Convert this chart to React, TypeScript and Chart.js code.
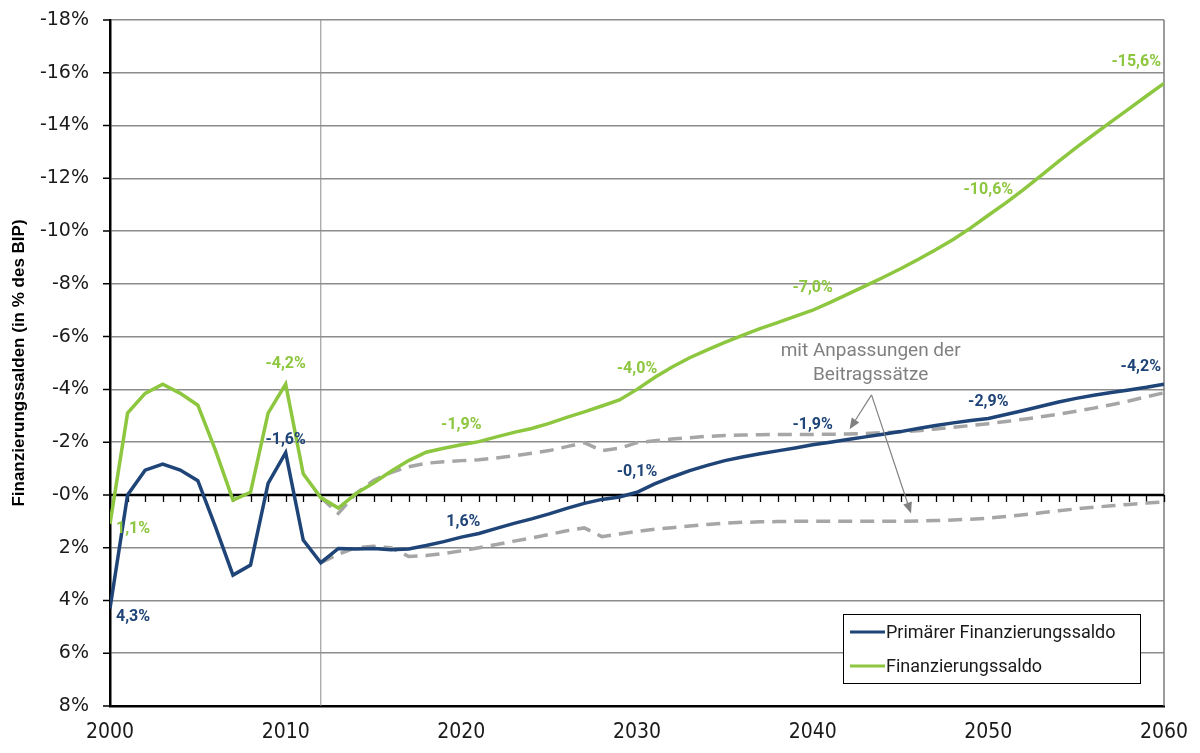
import { useEffect, useRef } from "react";
import { Chart, registerables } from "chart.js";

Chart.register(...registerables);

// Jahre 2000–2060
const years: number[] = [
  2000, 2001, 2002, 2003, 2004, 2005, 2006, 2007, 2008, 2009,
  2010, 2011, 2012, 2013, 2014, 2015, 2016, 2017, 2018, 2019,
  2020, 2021, 2022, 2023, 2024, 2025, 2026, 2027, 2028, 2029,
  2030, 2031, 2032, 2033, 2034, 2035, 2036, 2037, 2038, 2039,
  2040, 2041, 2042, 2043, 2044, 2045, 2046, 2047, 2048, 2049,
  2050, 2051, 2052, 2053, 2054, 2055, 2056, 2057, 2058, 2059,
  2060,
];

// Finanzierungssaldo (in % des BIP, Defizit negativ)
const finanzierungssaldo: number[] = [
  1.1, -3.1, -3.85, -4.2, -3.85, -3.4, -1.7, 0.2, -0.1, -3.1,
  -4.2, -0.8, 0.1, 0.5, -0.05, -0.45, -0.9, -1.3, -1.62, -1.77,
  -1.9, -2.02, -2.2, -2.37, -2.52, -2.71, -2.94, -3.15, -3.37, -3.6,
  -4.0, -4.45, -4.85, -5.2, -5.5, -5.78, -6.05, -6.3, -6.53, -6.77,
  -7.0, -7.3, -7.61, -7.92, -8.24, -8.57, -8.92, -9.29, -9.68, -10.12,
  -10.6, -11.07, -11.57, -12.1, -12.64, -13.16, -13.66, -14.15, -14.63, -15.12,
  -15.6,
];

// Primärer Finanzierungssaldo
const primaerSaldo: number[] = [
  4.3, 0.0, -0.94, -1.17, -0.94, -0.54, 1.2, 3.04, 2.66, -0.44,
  -1.6, 1.71, 2.57, 2.03, 2.05, 2.03, 2.08, 2.05, 1.92, 1.77,
  1.6, 1.46, 1.27, 1.08, 0.91, 0.72, 0.51, 0.32, 0.17, 0.08,
  -0.1, -0.42, -0.68, -0.92, -1.12, -1.3, -1.44, -1.56, -1.67, -1.78,
  -1.9, -2.0, -2.1, -2.2, -2.3, -2.4, -2.52, -2.63, -2.73, -2.82,
  -2.9, -3.05, -3.2, -3.36, -3.52, -3.66, -3.78, -3.88, -3.98, -4.08,
  -4.2,
];

// Finanzierungssaldo mit Anpassungen der Beitragssätze (ab 2012)
const saldoMitAnpassung: (number | null)[] = [
  null, null, null, null, null, null, null, null, null, null,
  null, null, 0.1, 0.7, -0.05, -0.55, -0.85, -1.07, -1.2, -1.26,
  -1.3, -1.33, -1.4, -1.48, -1.58, -1.68, -1.83, -1.98, -1.68, -1.77,
  -1.98, -2.05, -2.12, -2.17, -2.22, -2.25, -2.27, -2.28, -2.29, -2.29,
  -2.29, -2.3, -2.31, -2.33, -2.36, -2.39, -2.43, -2.5, -2.56, -2.63,
  -2.7, -2.78, -2.87, -2.96, -3.06, -3.17, -3.29, -3.42, -3.56, -3.72,
  -3.87,
];

// Primärer Finanzierungssaldo mit Anpassungen der Beitragssätze (ab 2012)
const primaerMitAnpassung: (number | null)[] = [
  null, null, null, null, null, null, null, null, null, null,
  null, null, 2.57, 2.25, 2.0, 1.95, 2.0, 2.33, 2.3, 2.22,
  2.12, 2.0, 1.88, 1.75, 1.63, 1.5, 1.36, 1.25, 1.58, 1.48,
  1.38, 1.3, 1.24, 1.18, 1.12, 1.07, 1.04, 1.02, 1.01, 1.0,
  1.0, 1.0, 1.0, 1.0, 1.0, 1.0, 0.99, 0.97, 0.95, 0.92,
  0.88, 0.82, 0.75, 0.68, 0.6, 0.53, 0.47, 0.41, 0.36, 0.31,
  0.26,
];

// Jahre mit Wertbeschriftung
const labelYears: number[] = [2000, 2010, 2020, 2030, 2040, 2050, 2060];

const yTicks: number[] = [-18, -16, -14, -12, -10, -8, -6, -4, -2, 0, 2, 4, 6, 8];
const xTicks: number[] = [2000, 2010, 2020, 2030, 2040, 2050, 2060];

const GREEN = "#8DC63F";
const BLUE = "#1F4478";
const GREY = "#A6A6A6";
const TEXT_FONT = "Roboto, 'DejaVu Sans', sans-serif";

const fmt = (v: number) => v.toFixed(1).replace(".", ",") + "%";

// Versatz der Wertbeschriftungen [dx, dy, Ausrichtung]
const greenLabelPlacement: [number, number, CanvasTextAlign][] = [
  [6, 5, "left"], [0, -20, "center"], [0, -20, "center"], [0, -20, "center"],
  [0, -22, "center"], [0, -25, "center"], [-3, -21, "right"],
];
const blueLabelPlacement: [number, number, CanvasTextAlign][] = [
  [6, 9, "left"], [0, -13, "center"], [2, -15, "center"], [0, -20, "center"],
  [0, -20, "center"], [0, -16, "center"], [-3, -17, "right"],
];

const toPoints = (vals: (number | null)[]) =>
  years.map((x, i) => ({ x, y: vals[i] }));

const decorPlugin = {
  id: "decor",
  beforeDatasetsDraw(chart: any) {
    const { ctx, chartArea, scales } = chart;
    const xs = scales.x;
    const ys = scales.y;
    ctx.save();
    // rechter Rahmen
    ctx.strokeStyle = "#7a7a7a";
    ctx.lineWidth = 1.5;
    ctx.beginPath();
    ctx.moveTo(chartArea.right, chartArea.top);
    ctx.lineTo(chartArea.right, chartArea.bottom);
    ctx.stroke();
    // Teilstriche der Y-Achse
    ctx.strokeStyle = "#000";
    ctx.lineWidth = 1.5;
    ctx.beginPath();
    yTicks.forEach((v) => {
      const py = ys.getPixelForValue(v);
      ctx.moveTo(chartArea.left - 7, py);
      ctx.lineTo(chartArea.left, py);
    });
    ctx.stroke();
    // Trennlinie 2012
    const x12 = xs.getPixelForValue(2012);
    ctx.strokeStyle = "#8c8c8c";
    ctx.lineWidth = 1;
    ctx.beginPath();
    ctx.moveTo(x12, chartArea.top);
    ctx.lineTo(x12, chartArea.bottom);
    ctx.stroke();
    // Nulllinie mit Jahresstrichen
    const y0 = ys.getPixelForValue(0);
    ctx.strokeStyle = "#000";
    ctx.lineWidth = 2.5;
    ctx.beginPath();
    ctx.moveTo(chartArea.left, y0);
    ctx.lineTo(chartArea.right, y0);
    ctx.stroke();
    ctx.lineWidth = 1.3;
    ctx.beginPath();
    years.forEach((yr) => {
      if (yr === years[0]) return;
      const px = Math.round(xs.getPixelForValue(yr)) + 0.5;
      ctx.moveTo(px, y0);
      ctx.lineTo(px, y0 + 7);
    });
    ctx.stroke();
    ctx.restore();
  },
  afterDatasetsDraw(chart: any) {
    const { ctx, chartArea, scales } = chart;
    const xs = scales.x;
    const ys = scales.y;
    ctx.save();

    // Wertbeschriftungen
    ctx.font = `bold 16px ${TEXT_FONT}`;
    ctx.textBaseline = "middle";
    const drawLabels = (
      vals: number[],
      color: string,
      place: [number, number, CanvasTextAlign][]
    ) => {
      ctx.fillStyle = color;
      labelYears.forEach((yr, k) => {
        const v = vals[years.indexOf(yr)];
        const [dx, dy, align] = place[k];
        ctx.textAlign = align;
        ctx.fillText(fmt(v), xs.getPixelForValue(yr) + dx, ys.getPixelForValue(v) + dy);
      });
    };
    drawLabels(finanzierungssaldo, GREEN, greenLabelPlacement);
    drawLabels(primaerSaldo, BLUE, blueLabelPlacement);

    // Hinweis "mit Anpassungen der Beitragssätze" mit Pfeilen
    ctx.fillStyle = "#808080";
    ctx.font = `19px ${TEXT_FONT}`;
    ctx.textAlign = "center";
    const tx = xs.getPixelForValue(2043.3);
    ctx.fillText("mit Anpassungen der", tx, ys.getPixelForValue(-5.44));
    ctx.fillText("Beitragssätze", tx, ys.getPixelForValue(-4.52));

    const sx = xs.getPixelForValue(2043.35);
    const sy = ys.getPixelForValue(-3.79);
    const arrow = (ex: number, ey: number) => {
      ctx.strokeStyle = "#808080";
      ctx.lineWidth = 1.2;
      const ang = Math.atan2(ey - sy, ex - sx);
      const head = 11;
      const bx = ex - Math.cos(ang) * head;
      const by = ey - Math.sin(ang) * head;
      ctx.beginPath();
      ctx.moveTo(sx, sy);
      ctx.lineTo(bx, by);
      ctx.stroke();
      ctx.beginPath();
      ctx.moveTo(ex, ey);
      ctx.lineTo(bx + Math.sin(ang) * 4.5, by - Math.cos(ang) * 4.5);
      ctx.lineTo(bx - Math.sin(ang) * 4.5, by + Math.cos(ang) * 4.5);
      ctx.closePath();
      ctx.fill();
    };
    arrow(xs.getPixelForValue(2042.1), ys.getPixelForValue(-2.49));
    arrow(xs.getPixelForValue(2045.6), ys.getPixelForValue(0.7));

    // Legende
    const lx = chartArea.right - 321;
    const ly = chartArea.bottom - 92;
    const lw = 297;
    const lh = 69;
    ctx.fillStyle = "#fff";
    ctx.fillRect(lx, ly, lw, lh);
    ctx.strokeStyle = "#000";
    ctx.lineWidth = 1;
    ctx.strokeRect(lx + 0.5, ly + 0.5, lw, lh);
    const entries: [string, string][] = [
      ["Primärer Finanzierungssaldo", BLUE],
      ["Finanzierungssaldo", GREEN],
    ];
    ctx.font = `18px ${TEXT_FONT}`;
    ctx.textAlign = "left";
    ctx.textBaseline = "middle";
    entries.forEach(([name, color], i) => {
      const cy = ly + 18 + i * 34;
      ctx.strokeStyle = color;
      ctx.lineWidth = 3;
      ctx.beginPath();
      ctx.moveTo(lx + 7, cy);
      ctx.lineTo(lx + 42, cy);
      ctx.stroke();
      ctx.fillStyle = "#1a1a1a";
      ctx.fillText(name, lx + 43, cy + 1);
    });
    ctx.restore();
  },
};

export default function App() {
  const canvasRef = useRef<HTMLCanvasElement | null>(null);

  useEffect(() => {
    if (!canvasRef.current) return;
    const chart = new Chart(canvasRef.current, {
      type: "line",
      data: {
        datasets: [
          {
            label: "Primärer Finanzierungssaldo",
            data: toPoints(primaerSaldo),
            borderColor: BLUE,
            borderWidth: 3.5,
            pointRadius: 0,
            order: 1,
          },
          {
            label: "Finanzierungssaldo",
            data: toPoints(finanzierungssaldo),
            borderColor: GREEN,
            borderWidth: 3.5,
            pointRadius: 0,
            order: 2,
          },
          {
            label: "Finanzierungssaldo mit Anpassungen der Beitragssätze",
            data: toPoints(saldoMitAnpassung),
            borderColor: GREY,
            borderWidth: 3.5,
            borderDash: [14, 8],
            pointRadius: 0,
            order: 3,
          },
          {
            label: "Primärer Finanzierungssaldo mit Anpassungen der Beitragssätze",
            data: toPoints(primaerMitAnpassung),
            borderColor: GREY,
            borderWidth: 3.5,
            borderDash: [14, 8],
            pointRadius: 0,
            order: 4,
          },
        ],
      },
      options: {
        responsive: false,
        animation: false,
        layout: { padding: { top: 20, right: 36, left: 0, bottom: 0 } },
        plugins: {
          legend: { display: false },
          tooltip: { enabled: false },
        },
        scales: {
          x: {
            type: "linear",
            min: 2000,
            max: 2060,
            afterFit: (s: any) => {
              s.height = 47;
            },
            afterBuildTicks: (s: any) => {
              s.ticks = xTicks.map((value) => ({ value }));
            },
            grid: {
              display: true,
              drawOnChartArea: false,
              drawTicks: true,
              tickLength: 8,
              tickColor: "rgba(0,0,0,0)",
            },
            border: { display: true, color: "#000", width: 2.5 },
            ticks: {
              padding: 6,
              color: "#1a1a1a",
              font: { family: "'DejaVu Sans Condensed', 'DejaVu Sans', sans-serif", size: 21 },
              maxRotation: 0,
              callback: (v: any) => String(v),
            },
          },
          y: {
            type: "linear",
            min: -18,
            max: 8,
            reverse: true,
            afterFit: (s: any) => {
              s.width = 110;
            },
            afterBuildTicks: (s: any) => {
              s.ticks = yTicks.map((value) => ({ value }));
            },
            grid: {
              color: "#8c8c8c",
              lineWidth: 1.5,
              tickColor: "rgba(0,0,0,0)",
              tickLength: 14,
            },
            border: { display: true, color: "#000", width: 2.5 },
            ticks: {
              padding: 7,
              color: "#1a1a1a",
              font: { family: "'DejaVu Sans', sans-serif", size: 19 },
              callback: (v: any) => (v === 0 ? "-0%" : `${v}%`),
            },
            title: {
              display: true,
              text: "Finanzierungssalden (in % des BIP)",
              color: "#000",
              font: { family: "'Liberation Sans', Arial, sans-serif", size: 17, weight: "bold" },
              padding: { top: 9, bottom: 0 },
            },
          },
        },
      },
      plugins: [decorPlugin],
    });
    return () => chart.destroy();
  }, []);

  return (
    <div style={{ position: "absolute", left: 0, top: 0, width: 1200, height: 753, background: "#fff" }}>
      <canvas ref={canvasRef} width={1200} height={753} style={{ display: "block" }} />
    </div>
  );
}
